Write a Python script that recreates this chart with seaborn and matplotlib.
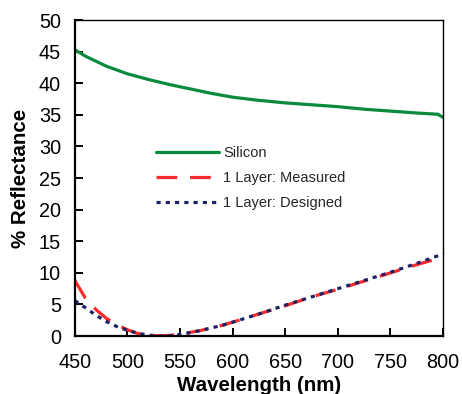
import numpy as np
import pandas as pd
import matplotlib
matplotlib.use("Agg")
import matplotlib.pyplot as plt
import seaborn as sns

wl_si = [450, 455, 460, 470, 480, 490, 500, 520, 540, 560, 580, 600, 625, 650, 675, 700, 725, 750, 775, 795, 800]
si = [45.3, 44.8, 44.3, 43.5, 42.7, 42.1, 41.5, 40.6, 39.8, 39.1, 38.4, 37.8, 37.3, 36.9, 36.6, 36.3, 35.9, 35.6, 35.3, 35.1, 34.6]

wl_l = [450, 460, 470, 480, 490, 500, 510, 520, 530, 540, 550, 560, 570, 580, 590, 600, 625, 650, 675, 700, 725, 750, 775, 800]
measured = [8.8, 6.0, 4.2, 2.8, 1.8, 1.0, 0.4, 0.15, 0.05, 0.1, 0.3, 0.6, 0.9, 1.3, 1.7, 2.2, 3.5, 4.8, 6.2, 7.4, 8.7, 10.0, 11.3, 12.5]
designed = [5.6, 4.5, 3.3, 2.3, 1.5, 0.9, 0.45, 0.15, 0.02, 0.05, 0.25, 0.55, 0.9, 1.3, 1.7, 2.2, 3.5, 4.9, 6.2, 7.5, 8.8, 10.1, 11.5, 13.0]

labels = ["Silicon", "1 Layer: Measured", "1 Layer: Designed"]
colors = ["#0a8a3c", "#ff2a2a", "#1a2366"]

df = pd.concat([
    pd.DataFrame({"wl": wl_si, "R": si, "s": labels[0]}),
    pd.DataFrame({"wl": wl_l, "R": measured, "s": labels[1]}),
    pd.DataFrame({"wl": wl_l, "R": designed, "s": labels[2]}),
])

sns.set_style("ticks")
plt.rcParams['font.family'] = ['Liberation Sans', 'DejaVu Sans']

fig = plt.figure(figsize=(4.62, 3.94), dpi=100)
ax = fig.add_axes([0.162, 0.147, 0.797, 0.802])

sns.lineplot(data=df, x="wl", y="R", hue="s", palette=dict(zip(labels, colors)),
             ax=ax, linewidth=2.3, legend=False, sort=False)
dashes = [None, (6.5, 4), (1.3, 1.6)]
for line, d in zip(ax.get_lines(), dashes):
    if d is not None:
        line.set_dashes(d)

handles = [plt.Line2D([], [], color=c, lw=2.3) for c in colors]
handles[1].set_dashes(dashes[1])
handles[2].set_dashes(dashes[2])
ax.legend(handles, labels, loc="upper left", bbox_to_anchor=(0.185, 0.643), frameon=False,
          fontsize=10.5, handlelength=4.3, handletextpad=0.3, labelspacing=0.75)

ax.set_xlim(450, 800)
ax.set_ylim(0, 50)
ax.set_xticks(range(450, 801, 50))
ax.set_yticks(range(0, 51, 5))
ax.tick_params(axis="x", direction="in", length=6, labelsize=14.3, pad=12, width=1.4,
               bottom=True, color="black", labelcolor="black")
ax.tick_params(axis="y", direction="in", length=6, labelsize=14.3, pad=10, width=1.4,
               left=True, color="black", labelcolor="black")
for sp in ax.spines.values():
    sp.set_visible(True)
    sp.set_color("black")
    sp.set_linewidth(1)
ax.spines["left"].set_linewidth(1.6)
ax.spines["bottom"].set_linewidth(1.6)
ax.set_xlabel("Wavelength (nm)", fontsize=14.8, fontweight="bold", labelpad=3, color="black")
ax.set_ylabel("% Reflectance", fontsize=14.8, fontweight="bold", labelpad=6, color="black")

fig.savefig("out.png", dpi=100)
